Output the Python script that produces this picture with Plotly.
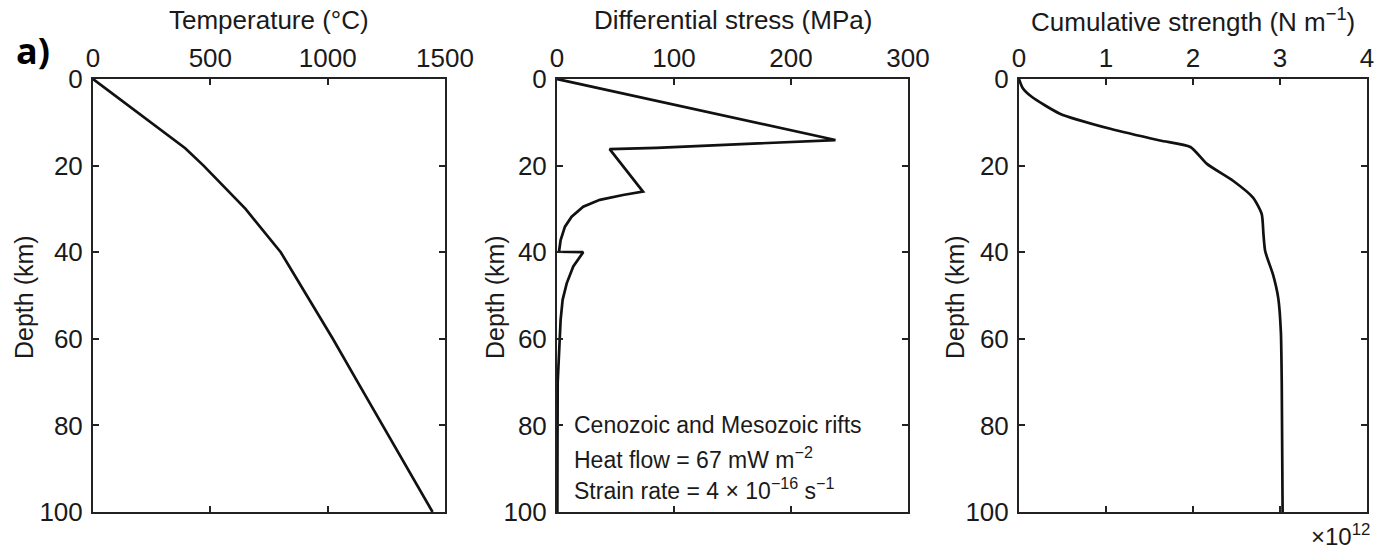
import plotly.graph_objects as go

W, H = 1375, 549

# ---- data ----
temp_depth = [0, 16, 20, 30, 40, 50, 60, 70, 80, 90, 100]
temp_value = [0, 393, 471, 650, 800, 912, 1022, 1128, 1234, 1340, 1447]

stress_depth = [0, 14.1, 15.9, 16.2, 26.0, 26.8, 27.9, 29.5, 31.8, 34.1, 37.2, 39.9,
                 40.0, 43.3, 47.2, 51.0, 55.6, 58.7, 66.4, 70, 85, 100]
stress_value = [0, 238, 85, 45, 73.5, 56.4, 36.6, 22.4, 12.5, 6.8, 3.1, 1.7,
                22.4, 13.9, 8.3, 4.8, 3.1, 2.5, 1.1, 0.6, 0.4, 0.3]

cum_depth = [0, 2, 4.1, 8.0, 11.5, 14.2, 15.7, 19.6, 23.5, 27.4, 31.2, 35.9, 39.8,
             45.2, 50.6, 58.4, 70, 100]
cum_value = [0, 0.04, 0.146, 0.47, 1.05, 1.62, 1.97, 2.16, 2.46, 2.69, 2.79, 2.81, 2.83,
             2.92, 2.98, 3.01, 3.02, 3.03]

x_titles = ["Temperature (°C)", "Differential stress (MPa)", "Cumulative strength (N m<sup>−1</sup>)"]
x_ranges = [[0, 1500], [0, 300], [0, 4]]
x_ticks = [[0, 500, 1000, 1500], [0, 100, 200, 300], [0, 1, 2, 3, 4]]
y_ticks = [0, 20, 40, 60, 80, 100]
y_title = "Depth (km)"
note_lines = ["Cenozoic and Mesozoic rifts",
              "Heat flow = 67 mW m<sup>−2</sup>",
              "Strain rate = 4 × 10<sup>−16</sup> s<sup>−1</sup>"]


def px(x):
    return x / W


def py(y):
    return 1 - y / H


# ---- layout geometry (window pixels) ----
px_x = [(93, 445), (557, 908), (1019, 1367)]
top_px, bot_px = 79, 512
ydom = [py(bot_px), py(top_px)]

FONT = "Liberation Sans, Arial, sans-serif"
TXT = "#1a1a1a"

fig = go.Figure()
series = [(temp_value, temp_depth, "linear"), (stress_value, stress_depth, "linear"),
          (cum_value, cum_depth, "spline")]
for i, (xv, yv, shp) in enumerate(series):
    sfx = "" if i == 0 else str(i + 1)
    line = dict(color="#111111", width=2.7, shape=shp)
    if shp == "spline":
        line["smoothing"] = 0.6
    fig.add_trace(go.Scatter(x=xv, y=yv, mode="lines", line=line,
                             xaxis="x" + sfx, yaxis="y" + sfx, showlegend=False))

layout = dict(width=W, height=H, margin=dict(l=0, r=0, t=0, b=0, autoexpand=False),
              paper_bgcolor="white", plot_bgcolor="white",
              font=dict(family=FONT, size=26, color=TXT))

for i in range(3):
    sfx = "" if i == 0 else str(i + 1)
    x0, x1 = px_x[i]
    layout["xaxis" + sfx] = dict(
        domain=[px(x0), px(x1)], range=x_ranges[i], side="top", automargin=False,
        anchor="y" + sfx, tickvals=x_ticks[i], ticks="inside", ticklen=6,
        tickwidth=1.5, tickcolor="#222", showline=True, linecolor="#222",
        linewidth=2, mirror="ticks", showgrid=False, zeroline=False,
        tickfont=dict(size=26, color=TXT), ticklabelstandoff=0)
    layout["yaxis" + sfx] = dict(
        domain=ydom, range=[100, 0], anchor="x" + sfx, tickvals=y_ticks,
        automargin=False,
        ticks="inside", ticklen=6, tickwidth=1.5, tickcolor="#222",
        showline=True, linecolor="#222", linewidth=2, mirror="ticks",
        showgrid=False, zeroline=False, tickfont=dict(size=26, color=TXT),
        ticklabelstandoff=3)

fig.update_layout(**layout)

ann = []
for i in range(3):
    x0, x1 = px_x[i]
    ann.append(dict(text=x_titles[i], x=px((x0 + x1) / 2), y=py(20),
                    xref="paper", yref="paper", showarrow=False,
                    font=dict(size=26, color=TXT), xanchor="center", yanchor="middle"))
for xc in [24, 495, 955]:
    ann.append(dict(text=y_title, x=px(xc), y=py(297), xref="paper", yref="paper",
                    showarrow=False, textangle=-90, font=dict(size=25, color=TXT),
                    xanchor="center", yanchor="middle"))
for k, yc in enumerate([425, 458, 489]):
    ann.append(dict(text=note_lines[k], x=px(572), y=py(yc), xref="paper",
                    yref="paper", showarrow=False, font=dict(size=23, color=TXT),
                    xanchor="left", yanchor="middle"))
ann.append(dict(text="×10<sup>12</sup>", x=px(1372), y=py(535), xref="paper",
                yref="paper", showarrow=False, font=dict(size=24, color=TXT),
                xanchor="right", yanchor="middle"))
ann.append(dict(text="<b>a)</b>", x=px(33), y=py(51), xref="paper", yref="paper",
                showarrow=False, font=dict(size=36, color="black",
                                           family="Open Sans, Liberation Sans, sans-serif"),
                xanchor="center", yanchor="middle"))
fig.update_layout(annotations=ann)

fig.write_html("out.html", config={"displayModeBar": False},
               post_script="document.body.style.margin='0';document.body.style.overflow='hidden';")
